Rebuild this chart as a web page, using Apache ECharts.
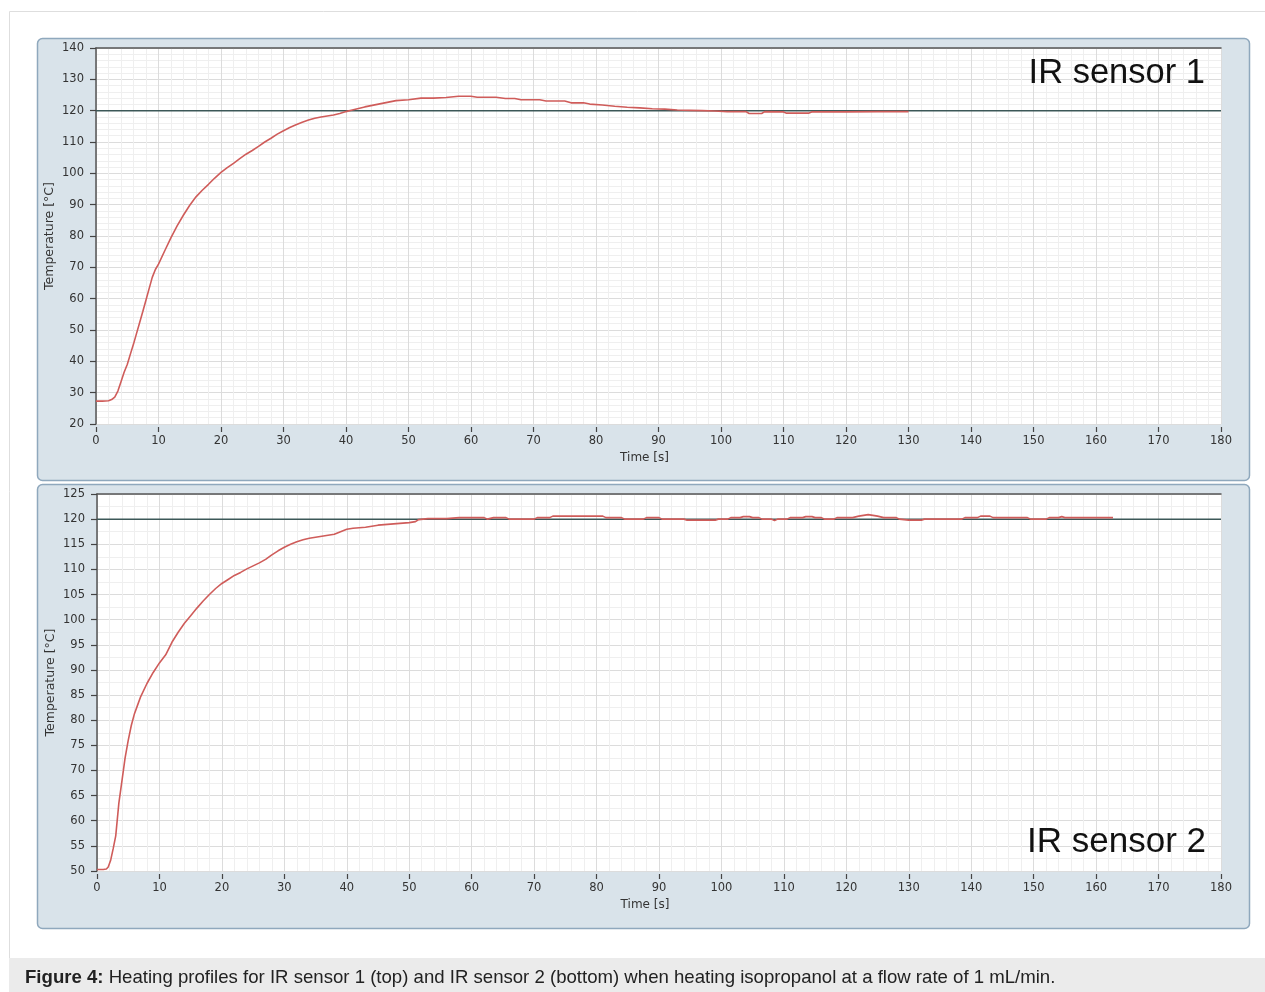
<!DOCTYPE html>
<html>
<head>
<meta charset="utf-8">
<script src="https://cdn.jsdelivr.net/npm/echarts@6/dist/echarts.min.js"></script>
<style>
html,body{margin:0;padding:0;background:#fff;}
#c{width:1265px;height:992px;}
</style>
</head>
<body>
<div id="c"></div>
<script>
// ---- data ----
const xTicksMax = 180;
const s1Time = [0,1,2,2.5,3,3.5,4,4.5,5,5.5,6,6.5,7,7.5,8,8.5,9,9.5,10,11,12,13,14,15,16,17,18,19,20,21,22,23,24,25,26,27,28,29,30,31,32,33,34,35,36,37,38,39,40,41,42,43,44,45,46,47,48,50,52,54,56,58,60,61,64,65.5,67,68,71,72,75,76,78,79,81,83,85,87,89,91,93,95,97,99,101,104,104.5,106.5,107,110,110.5,114,114.5,120,125,130];
const s1Temp = [27.3,27.3,27.4,27.8,28.6,30.5,33.5,36.5,39,42.3,45.5,49,52.5,56,59.6,63.2,66.8,69.3,71,75.3,79.5,83.3,86.7,89.8,92.5,94.6,96.5,98.5,100.3,101.8,103.2,104.7,106.1,107.3,108.6,110,111.2,112.5,113.6,114.6,115.5,116.3,117,117.6,118,118.3,118.6,119.1,119.7,120.2,120.7,121.2,121.6,122,122.4,122.8,123.2,123.5,124,124,124.2,124.6,124.6,124.3,124.3,123.9,123.9,123.5,123.5,123.1,123.1,122.5,122.5,122.1,121.8,121.4,121.1,120.9,120.6,120.5,120.2,120.1,120,119.9,119.7,119.7,119.1,119.1,119.7,119.6,119.2,119.2,119.6,119.6,119.7,119.7];
const s2Time = [0,1,1.5,1.8,2.2,2.6,3,3.5,4,4.5,5,5.5,6,6.5,7,8,9,10,11,12,13,14,15,16,17,18,19,20,21,22,23,24,25,26,27,28,29,30,31,32,33,34,35,36,37,38,39,40,41,42,43,44,45,46,48,50,51,51.5,53,56,58,62,62.5,63.5,65.5,66,70,70.5,72.5,73,81,81.5,84,84.5,87.5,88,90,90.5,94,94.5,99,99.5,101,101.5,103,103.5,104.5,105,106,106.5,108,108.5,109,110.5,111,113,113.5,114.5,115,116,116.5,118,118.5,121,122,123.5,125,126,128,128.5,130,132,132.5,138.5,139,141,141.5,143,143.5,149,149.5,152,152.5,154,154.5,155,162.7];
const s2Temp = [50.3,50.3,50.4,50.8,52.2,54.5,57,63.5,68,72.5,76,79,81.3,83,84.7,87.3,89.5,91.4,93,95.5,97.5,99.3,100.8,102.3,103.7,105,106.2,107.2,108,108.8,109.4,110.1,110.7,111.3,112,112.9,113.7,114.4,115,115.5,115.9,116.2,116.4,116.6,116.8,117,117.5,118,118.2,118.3,118.4,118.6,118.8,118.9,119.1,119.3,119.5,119.9,120.1,120.1,120.3,120.3,120,120.3,120.3,120,120,120.3,120.3,120.6,120.6,120.3,120.3,120,120,120.3,120.3,120,120,119.8,119.8,120,120,120.3,120.3,120.5,120.5,120.3,120.3,120,120,119.7,120,120,120.3,120.3,120.5,120.5,120.3,120.3,120,120,120.3,120.3,120.6,120.9,120.6,120.3,120.3,120,119.8,119.8,120,120,120.3,120.3,120.6,120.6,120.3,120.3,120,120,120.3,120.3,120.5,120.3,120.3];
const setTime = [0, 180];
const setTemp = [120, 120];
const y1Range = [20, 140];
const y2Range = [50, 125];
const panelTitles = ['IR sensor 1', 'IR sensor 2'];
const xName = 'Time [s]';
const yName = 'Temperature [°C]';
const caption = ['Figure 4:', ' Heating profiles for IR sensor 1 (top) and IR sensor 2 (bottom) when heating isopropanol at a flow rate of 1 mL/min.'];

const zip = (a, b) => a.map((v, i) => [v, b[i]]);

// ---- styles ----
const FONT = 'DejaVu Sans';
const gridTops = [48, 494];
const gridHeights = [376, 377];

function xAxes(i) {
  return [{
    type: 'value', gridIndex: i, min: 0, max: xTicksMax, interval: 10,
    position: 'bottom', offset: 3,
    name: xName, nameLocation: 'middle', nameGap: 25, nameMoveOverlap: false,
    nameTextStyle: {fontFamily: FONT, fontSize: 12, color: '#333', padding: [0, 28, 0, 0]},
    axisLine: {show: false},
    axisTick: {show: true, length: 5, lineStyle: {color: '#444', width: 1.2}},
    minorTick: {show: false, splitNumber: 5},
    axisLabel: {fontFamily: FONT, fontSize: 11.5, color: '#333', margin: 8},
    splitLine: {show: true, lineStyle: {color: '#dcdcdc', width: 1}},
    minorSplitLine: {show: true, lineStyle: {color: '#efefef', width: 1}}
  }, {
    type: 'value', gridIndex: i, min: 0, max: xTicksMax, position: 'top',
    axisLine: {show: true, onZero: false, lineStyle: {color: '#555', width: 1.5}},
    axisTick: {show: false}, axisLabel: {show: false}, splitLine: {show: false}
  }];
}
function yAxis(i, range, interval, minor) {
  return {
    type: 'value', gridIndex: i, min: range[0], max: range[1], interval: interval,
    name: yName, nameLocation: 'middle', nameGap: 40, nameMoveOverlap: false,
    nameTextStyle: {fontFamily: FONT, fontSize: 12.5, color: '#333'},
    axisLine: {show: true, lineStyle: {color: '#555', width: 1.5}},
    axisTick: {show: true, length: 6, lineStyle: {color: '#444', width: 1.2}},
    minorTick: {show: false, splitNumber: minor},
    axisLabel: {fontFamily: FONT, fontSize: 11.5, color: '#333', margin: 12},
    splitLine: {show: true, lineStyle: {color: '#dcdcdc', width: 1}},
    minorSplitLine: {show: true, lineStyle: {color: '#efefef', width: 1}}
  };
}

const chart = echarts.init(document.getElementById('c'), null, {renderer: 'canvas'});
chart.setOption({
  animation: false,
  backgroundColor: '#fff',
  graphic: [
    {type: 'rect', z: -10, shape: {x: 9.5, y: 11.5, width: 1270, height: 960}, style: {fill: '#fff', stroke: '#dedede', lineWidth: 1}},
    {type: 'rect', z: -9, shape: {x: 37.5, y: 38.5, width: 1212, height: 442, r: 5}, style: {fill: '#d9e3ea', stroke: '#8fa8bd', lineWidth: 1.5}},
    {type: 'rect', z: -9, shape: {x: 37.5, y: 484.5, width: 1212, height: 444, r: 5}, style: {fill: '#d9e3ea', stroke: '#8fa8bd', lineWidth: 1.5}},
    {type: 'rect', z: -8, shape: {x: 9, y: 958, width: 1256, height: 34}, style: {fill: '#ebebeb'}},
    {type: 'text', z: 10, x: 25, y: 978, style: {
      text: '{b|' + caption[0] + '}{n|' + caption[1] + '}', verticalAlign: 'middle',
      rich: {
        b: {fontFamily: 'Liberation Sans', fontWeight: 'bold', fontSize: 18.6, fill: '#222'},
        n: {fontFamily: 'Liberation Sans', fontSize: 18.6, fill: '#222'}
      }
    }}
  ],
  title: [
    {text: panelTitles[0], right: 55, top: 51, textStyle: {fontFamily: 'Liberation Sans', fontWeight: 'normal', fontSize: 34.5, color: '#111'}},
    {text: panelTitles[1], right: 54, top: 820, textStyle: {fontFamily: 'Liberation Sans', fontWeight: 'normal', fontSize: 35, color: '#111'}}
  ],
  grid: [
    {left: 96, right: 44, top: gridTops[0], height: gridHeights[0], show: true, backgroundColor: '#fff', borderWidth: 0},
    {left: 97, right: 44, top: gridTops[1], height: gridHeights[1], show: true, backgroundColor: '#fff', borderWidth: 0}
  ],
  xAxis: [...xAxes(0), ...xAxes(1)],
  yAxis: [yAxis(0, y1Range, 10, 5), yAxis(1, y2Range, 5, 2)],
  series: [
    {type: 'line', name: 'set1', xAxisIndex: 0, yAxisIndex: 0, data: zip(setTime, setTemp), showSymbol: false, lineStyle: {color: '#3c5858', width: 1.5}, z: 2},
    {type: 'line', name: 'IR sensor 1', xAxisIndex: 0, yAxisIndex: 0, data: zip(s1Time, s1Temp), showSymbol: false, lineStyle: {color: '#cf5c5a', width: 1.6}, z: 3},
    {type: 'line', name: 'set2', xAxisIndex: 2, yAxisIndex: 1, data: zip(setTime, setTemp), showSymbol: false, lineStyle: {color: '#3c5858', width: 1.5}, z: 2},
    {type: 'line', name: 'IR sensor 2', xAxisIndex: 2, yAxisIndex: 1, data: zip(s2Time, s2Temp), showSymbol: false, lineStyle: {color: '#cf5c5a', width: 1.6}, z: 3}
  ]
});
</script>
</body>
</html>
